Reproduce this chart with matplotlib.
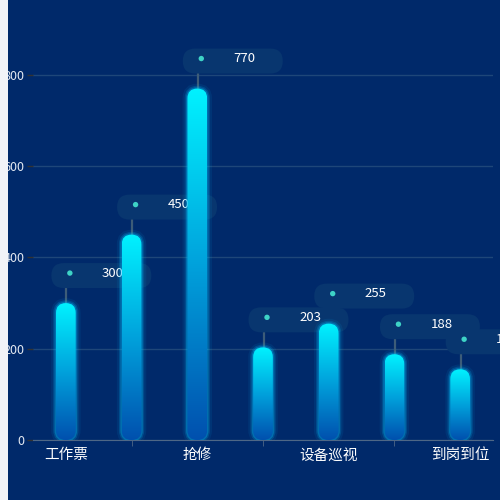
import numpy as np
import matplotlib.pyplot as plt
import matplotlib.transforms as mtransforms
from matplotlib.patches import FancyBboxPatch, Rectangle, Circle
from matplotlib.colors import LinearSegmentedColormap

plt.rcParams['font.family'] = ['Noto Sans CJK SC', 'DejaVu Sans']

# data
categories = ['工作票', '', '抢修', '', '设备巡视', '', '到岗到位']
values = [300, 450, 770, 203, 255, 188, 155]
yticks = [0, 200, 400, 600, 800]

bg = '#00296A'
pill_color = '#08366F'
grid_color = '#1E4679'
axis_color = '#4E6786'
bar_cmap = LinearSegmentedColormap.from_list('bar', ['#0050AE', '#00A2DC', '#00F2FF'])

fig = plt.figure(figsize=(5, 5), dpi=100, facecolor=bg)
ax = fig.add_axes([0.066, 0.12, 0.92, 0.88])
ax.set_facecolor('none')

x = np.arange(len(values))
ax.set_xlim(-0.5, len(values) - 0.5)
ax.set_ylim(0, 964)

# aspect to keep the bar caps round
ax_w = 0.92 * 500
ax_h = 0.88 * 500
aspect = (964 / ax_h) / (7 / ax_w)

bars = ax.bar(x, values, width=0.3, color='none', zorder=3)
for rect in bars:
    x0, w, h = rect.get_x(), rect.get_width(), rect.get_height()
    style = f'round,pad=0,rounding_size={w / 2}'
    for lw, a in [(7, 0.08), (4, 0.18), (2, 0.3)]:
        ax.add_patch(FancyBboxPatch((x0, 0), w, h, boxstyle=style, mutation_aspect=aspect,
                                    fc='none', ec='#00BFFF', lw=lw, alpha=a, zorder=3))
    clip = FancyBboxPatch((x0, 0), w, h, boxstyle=style, mutation_aspect=aspect,
                          fc='none', ec='none', zorder=3.5)
    ax.add_patch(clip)
    im = ax.imshow(np.linspace(0, 1, 256).reshape(-1, 1), extent=(x0, x0 + w, 0, h),
                   origin='lower', cmap=bar_cmap, aspect='auto', zorder=3.5)
    im.set_clip_path(clip)

ax.set_xlim(-0.5, len(values) - 0.5)
ax.set_ylim(0, 964)

# value pills (behind the bars)
for xi, v in zip(x, values):
    trans = fig.dpi_scale_trans + mtransforms.ScaledTranslation(xi, v, ax.transData)
    ax.plot([0.005, 0.005], [0.0, 0.15], transform=trans, color='#3D5C78', lw=1.6,
            zorder=1.5, clip_on=False)
    ax.add_patch(FancyBboxPatch((-0.145, 0.15), 1.0, 0.25,
                                boxstyle='round,pad=0,rounding_size=0.125',
                                transform=trans, fc=pill_color, ec='none',
                                zorder=2, clip_on=False))
    ax.add_patch(Circle((0.04, 0.30), 0.027, transform=trans, fc='#3ED3C6', ec='none',
                        zorder=2.1, clip_on=False))
    ax.text(0.47, 0.30, str(v), transform=trans, ha='center', va='center',
            color='white', fontsize=9.5, zorder=2.2, clip_on=False)

# axes styling
for s in ['top', 'right', 'left']:
    ax.spines[s].set_visible(False)
ax.spines['bottom'].set_color(axis_color)

ax.set_yticks(yticks)
ax.tick_params(axis='y', colors='#333333', labelcolor='#E4E9F2', labelsize=9,
               length=4, width=1, pad=2)
ax.yaxis.grid(True, color=grid_color, lw=1, zorder=1)
ax.set_axisbelow(True)

ax.set_xticks(x[::2])
ax.set_xticklabels(categories[::2])
ax.set_xticks(x[1::2], minor=True)
ax.tick_params(axis='x', which='major', length=0, pad=6, labelsize=10.5, labelcolor='white')
ax.tick_params(axis='x', which='minor', length=4, color=axis_color)

# white strip on the left
fig.add_artist(Rectangle((0, 0), 0.016, 1, transform=fig.transFigure,
                         fc='#F2F3F8', ec='none', zorder=10))

plt.savefig('out.png', dpi=100, facecolor=bg)
